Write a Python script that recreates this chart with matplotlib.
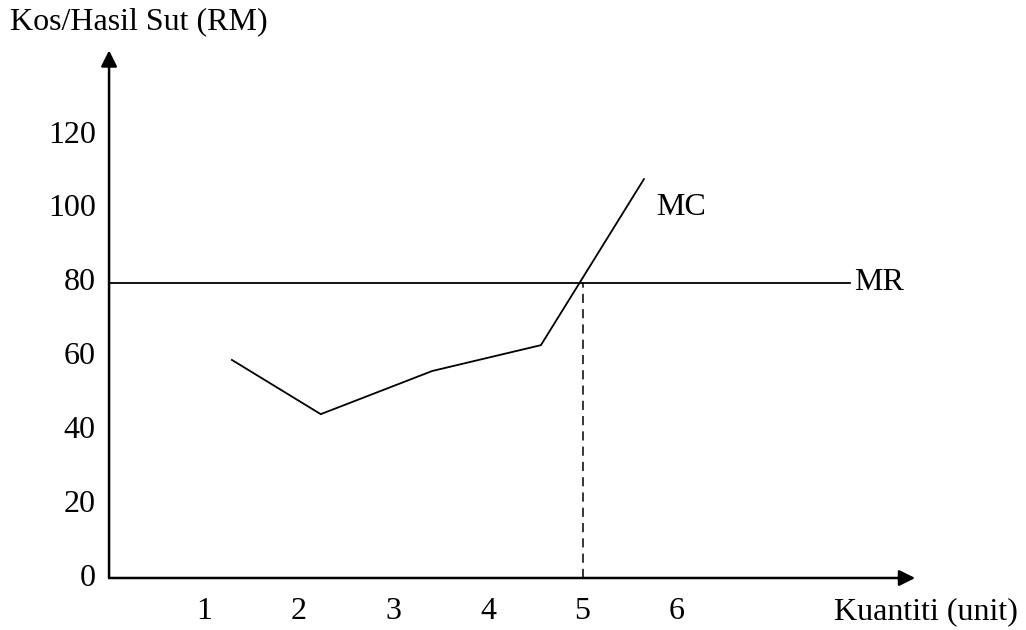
import matplotlib
matplotlib.use("Agg")
from matplotlib import pyplot as plt

# data
kuantiti_ticks = [1, 2, 3, 4, 5, 6]
kos_ticks = [0, 20, 40, 60, 80, 100, 120]
mc_q = [1.29, 2.23, 3.41, 4.56, 5.65]
mc_kos = [59.1, 44.4, 56.1, 63.1, 108.1]
mr_q = [0, 7.83]
mr_hasil = [80, 80]
q_untung = 5
mr_nilai = 80

plt.rcParams["font.family"] = ["Liberation Serif", "DejaVu Serif"]
FS = 23

fig = plt.figure(figsize=(10.26, 6.3), dpi=100)
W, H = 1026, 630
# x=0 at px 110, 94.5 px per unit; y=0 at px 578, 3.69 px per unit
ax = fig.add_axes([110 / W, (H - 578) / H, 94.5 * 9 / W, 3.69 * 150 / H])
ax.set_xlim(0, 9)
ax.set_ylim(0, 150)
ax.axis("off")

# axes with arrows
ax.annotate("", xy=(8.52, 0), xytext=(-0.01, 0),
            arrowprops=dict(arrowstyle="-|>", lw=1.8, color="black",
                            mutation_scale=24, shrinkA=0, shrinkB=0),
            annotation_clip=False)
ax.annotate("", xy=(-0.01, 143), xytext=(-0.01, 0),
            arrowprops=dict(arrowstyle="-|>", lw=1.8, color="black",
                            mutation_scale=24, shrinkA=0, shrinkB=0),
            annotation_clip=False)

ax.plot(mc_q, mc_kos, color="black", lw=1.3, solid_joinstyle="miter")
ax.plot(mr_q, mr_hasil, color="black", lw=1.3)
ax.plot([q_untung, q_untung], [0, mr_nilai], color="black", lw=1.1,
        linestyle=(0, (6, 4)))

# tick labels
for k in kos_ticks:
    ax.text(-0.15, k, str(k), ha="right", va="center", fontsize=FS)
for q in kuantiti_ticks:
    ax.text(q, -9.2, str(q), ha="center", va="center", fontsize=FS)

fig.text(1018 / W, 1 - 612 / H, "Kuantiti (unit)", ha="right", va="center",
         fontsize=FS)
fig.text(10 / W, 1 - 22 / H, "Kos/Hasil Sut (RM)", ha="left", va="center",
         fontsize=FS)
ax.text(5.78, 100.5, "MC", ha="left", va="center", fontsize=FS)
ax.text(7.87, 80, "MR", ha="left", va="center", fontsize=FS)

fig.savefig("out.png", dpi=100)
